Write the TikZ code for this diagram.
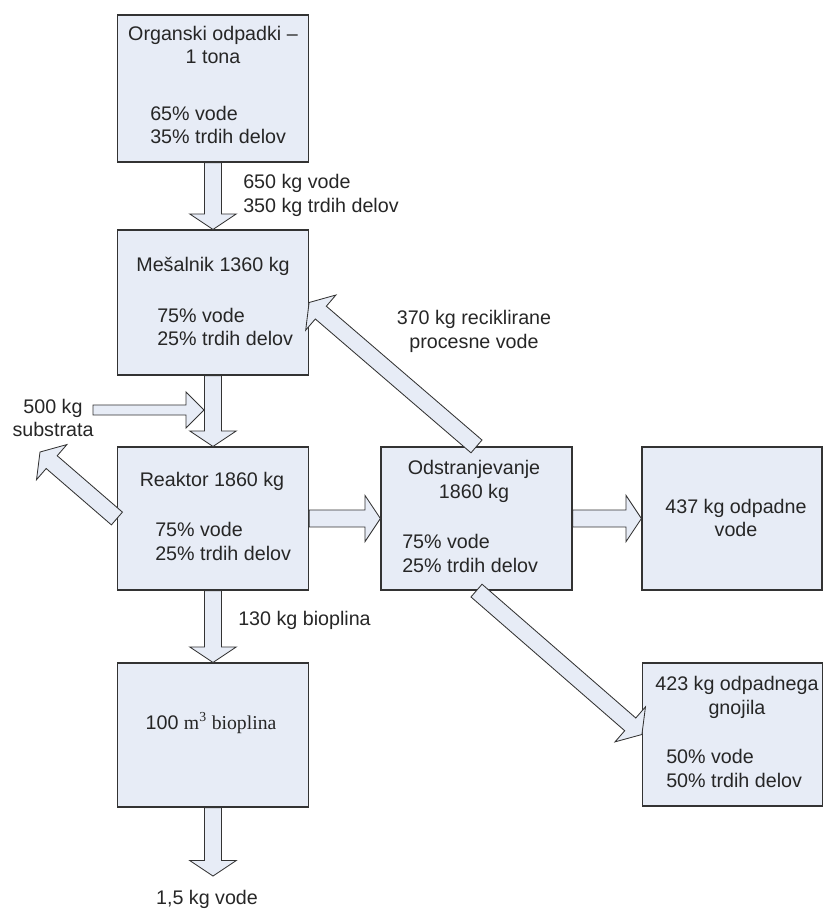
\documentclass[tikz,border=0pt]{standalone}
\usepackage{fontspec}
\setmainfont{Liberation Sans}
\newfontfamily\seriffont{Liberation Serif}
\usepackage{tikz}
\usetikzlibrary{calc}
\definecolor{boxfill}{RGB}{231,236,246}
\newcommand{\shaftw}{6pt}
\newcommand{\headw}{16.5pt}
\newcommand{\headl}{11pt}
\newcommand{\blockarr}[2]{%
  \coordinate (ta) at (#1);
  \coordinate (tb) at (#2);
  \coordinate (th) at ($(tb)!\headl!(ta)$);
  \draw[flow] ($(ta)!\shaftw!90:(tb)$) -- ($(th)!\shaftw!90:(tb)$)
    -- ($(th)!\headw!90:(tb)$) -- (tb) -- ($(th)!\headw!-90:(tb)$)
    -- ($(th)!\shaftw!-90:(tb)$) -- ($(ta)!\shaftw!-90:(tb)$) -- cycle;}

\begin{document}
\begin{tikzpicture}[x=0.025cm, y=-0.025cm,
  box/.style={draw=black!80, fill=boxfill, line width=0.8pt,
              minimum width=4.775cm, minimum height=3.6cm, inner sep=0pt},
  txt/.style={font=\fontsize{14}{17}\selectfont, text=black!85, inner sep=0pt},
  flow/.style={draw=black!80, fill=boxfill, line width=0.6pt}]
  \useasboundingbox (0,0) rectangle (825,910);
  % left column
  \node[box, minimum height=3.675cm] (org) at (213,88.5) {};
  \node[box, minimum height=3.625cm] (mes) at (213,302.5) {};
  \node[box, minimum height=3.575cm] (reak) at (213,518.5) {};
  \node[box] (bio) at (213,735) {};
  % right column
  \node[box, minimum height=3.575cm] (odst) at (476.5,518.5) {};
  \node[box, minimum width=4.5cm, minimum height=3.575cm] (vod) at (732,518.5) {};
  \node[box, minimum width=4.5cm, minimum height=3.575cm] (gnoj) at (732.5,734.5) {};
  % box texts
  \node[txt, align=center] (orgt) at (213,45) {Organski odpadki –\\1 tona};
  \node[txt, align=left, anchor=west] (orgp) at (150,125) {65\% vode\\35\% trdih delov};
  \node[txt] (mest) at (213,266) {Mešalnik 1360 kg};
  \node[txt, align=left, anchor=west] (mesp) at (157,327) {75\% vode\\25\% trdih delov};
  \node[txt] (reakt) at (212,481) {Reaktor 1860 kg};
  \node[txt, align=left, anchor=west] (reakp) at (155,541.5) {75\% vode\\25\% trdih delov};
  \node[txt] (biot) at (211,723) {100 {\seriffont m\textsuperscript{3} bioplina}};
  \node[txt, align=center] (odstt) at (474,481) {Odstranjevanje\\1860 kg};
  \node[txt, align=left, anchor=west] (odstp) at (402,553.5) {75\% vode\\25\% trdih delov};
  \node[txt, align=center] (vodt) at (736,518) {437 kg odpadne\\vode};
  \node[txt, align=center] (gnojt) at (737,697.5) {423 kg odpadnega\\gnojila};
  \node[txt, align=left, anchor=west] (gnojp) at (666,768) {50\% vode\\50\% trdih delov};
  % flow labels
  \node[txt, align=left, anchor=west] (inl) at (243,195) {650 kg vode\\350 kg trdih delov};
  \node[txt, align=center] (recl) at (474,331.5) {370 kg reciklirane\\procesne vode};
  \node[txt, align=center] (subl) at (53,418) {500 kg\\substrata};
  \node[txt, anchor=west] (biol) at (238,620) {130 kg bioplina};
  \node[txt] (vodl) at (207,899) {1,5 kg vode};
  % flows
  \coordinate (vodend) at (213,876);
  \coordinate (plinend) at (40,452);
  \coordinate (subin) at (93,410);
  \coordinate (subout) at (204,410);
  \blockarr{org.south}{mes.north}
  \blockarr{mes.south}{reak.north}
  \blockarr{reak.south}{bio.north}
  \blockarr{bio.south}{vodend}
  \blockarr{reak.east}{odst.west}
  \blockarr{odst.east}{vod.west}
  \blockarr{odst.south}{gnoj.west}
  \blockarr{odst.north}{mes.east}
  \blockarr{reak.west}{plinend}
  {\renewcommand{\shaftw}{3.6pt}\renewcommand{\headw}{12.8pt}\renewcommand{\headl}{12.8pt}
   \blockarr{subin}{subout}}
\end{tikzpicture}
\end{document}
